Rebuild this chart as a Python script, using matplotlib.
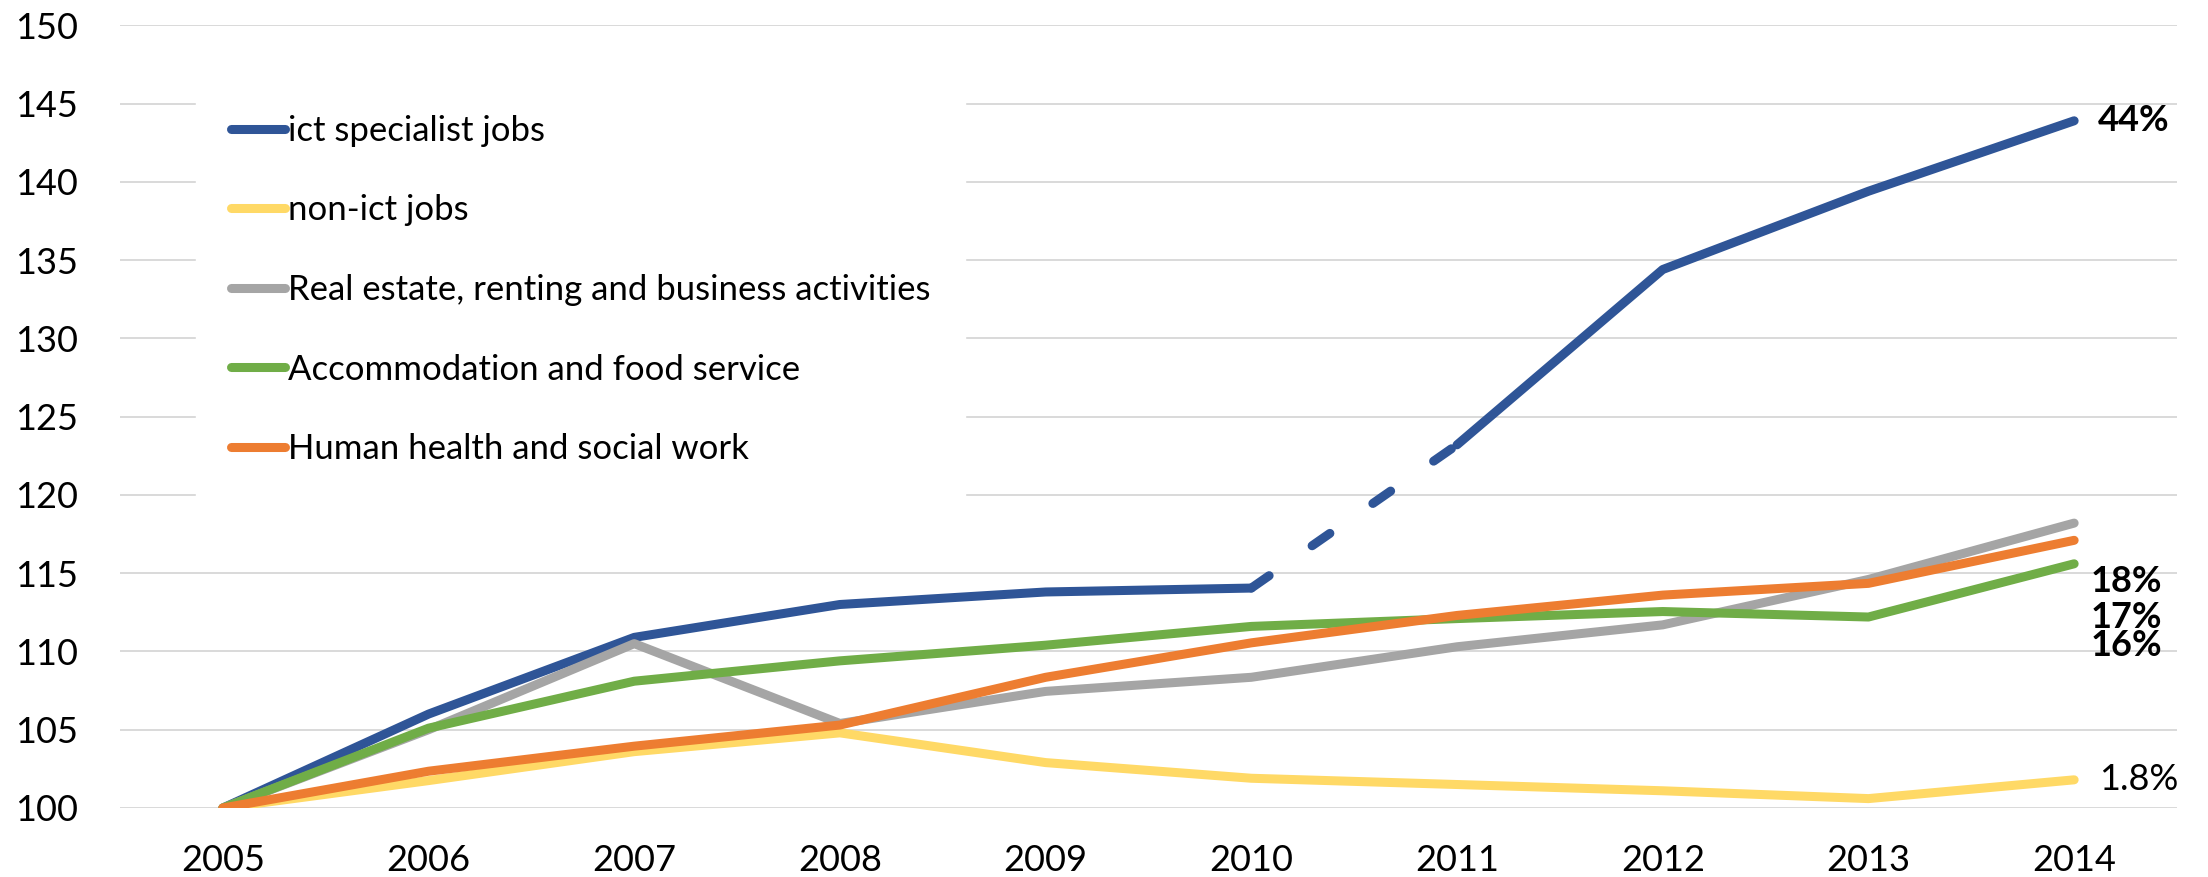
import matplotlib
matplotlib.use("Agg")
import matplotlib.pyplot as plt

plt.rcParams['font.family'] = ['Lato', 'DejaVu Sans']

years = [2005, 2006, 2007, 2008, 2009, 2010, 2011, 2012, 2013, 2014]
ict = [100, 106.0, 110.9, 113.0, 113.8, 114.05, 123.2, 134.4, 139.4, 143.9]
non_ict = [100, 101.75, 103.6, 104.8, 102.9, 101.9, 101.5, 101.1, 100.6, 101.8]
real_estate = [100, 105.0, 110.5, 105.4, 107.45, 108.35, 110.3, 111.7, 114.6, 118.2]
accommodation = [100, 105.1, 108.1, 109.4, 110.4, 111.6, 112.1, 112.55, 112.2, 115.6]
health = [100, 102.35, 103.95, 105.3, 108.35, 110.55, 112.3, 113.6, 114.35, 117.1]

labels = ["ict specialist jobs", "non-ict jobs",
          "Real estate, renting and business activities",
          "Accommodation and food service", "Human health and social work"]
colors = ["#2F5597", "#FFD966", "#A5A5A5", "#70AD47", "#ED7D31"]

# stacked end labels for the three sectors: (text, y)
end_labels = [("18%", 114.5), ("17%", 112.2), ("16%", 110.4)]

fig = plt.figure(figsize=(22.08, 8.77), dpi=100)
ax = fig.add_axes([0.05435, 0.07868, 0.93161, 0.89247])

lw = 6.5
kw = dict(linewidth=lw, solid_capstyle='round', solid_joinstyle='round',
          dash_capstyle='round')

# ict line: solid except the 2010-2011 step, which is dashed
ax.plot(years[:6], ict[:6], color=colors[0], label=labels[0], **kw)
ax.plot(years[5:7], ict[5:7], color=colors[0], dashes=(2.4, 5.8), **kw)
ax.plot(years[6:], ict[6:], color=colors[0], **kw)

ax.plot(years, non_ict, color=colors[1], label=labels[1], **kw)
ax.plot(years, real_estate, color=colors[2], label=labels[2], **kw)
ax.plot(years, accommodation, color=colors[3], label=labels[3], **kw)
ax.plot(years, health, color=colors[4], label=labels[4], **kw)

ax.set_xlim(2004.5, 2014.5)
ax.set_ylim(100, 150)
ax.set_yticks(range(100, 151, 5))
ax.set_xticks(years)
ax.grid(axis='y', color='#D9D9D9', linewidth=1.4)
ax.set_axisbelow(True)
for s in ax.spines.values():
    s.set_visible(False)
ax.tick_params(axis='both', length=0, labelsize=26)
ax.tick_params(axis='y', pad=30)
ax.tick_params(axis='x', pad=26)

ax.annotate("44%", (years[-1], ict[-1]), xytext=(17, 0), textcoords='offset points',
            ha='left', va='center', fontsize=26, fontweight='bold')
ax.annotate("1.8%", (years[-1], non_ict[-1]), xytext=(18, 0), textcoords='offset points',
            ha='left', va='center', fontsize=26)
for txt, y in end_labels:
    ax.text(2014.08, y, txt, ha='left', va='center', fontsize=26, fontweight='bold')

leg = ax.legend(loc='upper left', bbox_to_anchor=(0.037, 0.93), fontsize=25,
                frameon=True, facecolor='white', edgecolor='white', framealpha=1,
                fancybox=False, borderpad=1.0, handlelength=1.55, handletextpad=0.1,
                labelspacing=1.37, borderaxespad=0)
for h in leg.get_lines():
    h.set_linewidth(lw)
    h.set_solid_capstyle('round')

fig.savefig("out.png", dpi=100)
